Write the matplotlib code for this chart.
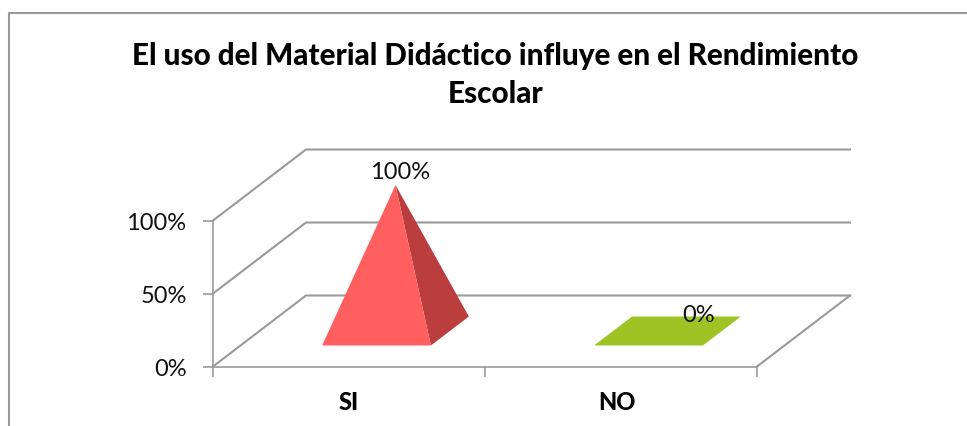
import matplotlib
matplotlib.use('Agg')
import matplotlib.pyplot as plt
from matplotlib.patches import Polygon
from matplotlib.lines import Line2D
from matplotlib.transforms import ScaledTranslation

plt.rcParams['font.family'] = ['Lato', 'DejaVu Sans']

title = 'El uso del Material Didáctico influye en el Rendimiento\nEscolar'
categories = ['SI', 'NO']
values = [1.0, 0.0]
value_labels = ['100%', '0%']
y_ticks = [0, 0.5, 1.0]
y_tick_labels = ['0%', '50%', '100%']

W, H = 967, 427
grey = '#9a9a9a'

# depth shift of the fake 3d box, in data units
depth_x = 93 / 272
depth_y = 71 / 146
half_w = 0.2
d_front, d_back = 0.296, 0.704


def proj(x, v, d):
    return x + d * depth_x, v + d * depth_y


fig = plt.figure(figsize=(W / 100, H / 100), dpi=100)
fig.add_artist(Line2D([9 / W, 9 / W, 1], [0, 1 - 14 / H, 1 - 14 / H], color=grey, lw=1.5))

ax = fig.add_axes([213 / W, 1 - 367.5 / H, 544 / W, 146 / H])
ax.set_xlim(0, 2)
ax.set_ylim(0, 1)
for s in ax.spines.values():
    s.set_visible(False)
ax.spines['left'].set_visible(True)
ax.spines['bottom'].set_visible(True)
ax.spines['left'].set_color(grey)
ax.spines['bottom'].set_color(grey)
ax.spines['left'].set_linewidth(1.2)
ax.spines['bottom'].set_linewidth(1.2)

ax.set_xticks([0, 1, 2])
ax.set_xticklabels([])
ax.set_xticks([0.5, 1.5], categories, minor=True, fontsize=17, fontweight='black')
ax.tick_params(axis='x', which='major', length=7, color=grey, width=1.2)
ax.tick_params(axis='x', which='minor', length=0, pad=17)
ax.set_yticks(y_ticks, y_tick_labels, fontsize=17)
ax.tick_params(axis='y', length=7, color=grey, width=1.2, pad=12, labelcolor='#111111')

# NO sits a bit left of its slot in the reference
no_label = ax.get_xticklabels(minor=True)[1]
no_label.set_transform(no_label.get_transform() + ScaledTranslation(-4 / 100, 0, fig.dpi_scale_trans))

# walls and floor
for v in y_ticks:
    x0, y0 = proj(0, v, 0)
    x1, y1 = proj(0, v, 1)
    x2, y2 = proj(2, v, 1)
    ax.plot([x0, x1, x2], [y0, y1, y2], color=grey, lw=1.5, clip_on=False, zorder=1)
x0, y0 = proj(2, 0, 0)
x1, y1 = proj(2, 0, 1)
ax.plot([x0, x1], [y0, y1], color=grey, lw=1.5, clip_on=False, zorder=1)

for i, (val, lab) in enumerate(zip(values, value_labels)):
    c = i + 0.5
    fl = proj(c - half_w, 0, d_front)
    fr = proj(c + half_w, 0, d_front)
    br = proj(c + half_w, 0, d_back)
    bl = proj(c - half_w, 0, d_back)
    apex = proj(c, val, 0.5)
    if val > 0:
        ax.add_patch(Polygon([fr, br, apex], closed=True, fc='#BC3D3D', ec='none', clip_on=False, zorder=3))
        ax.add_patch(Polygon([fl, fr, apex], closed=True, fc='#FF5F5F', ec='none', clip_on=False, zorder=4))
        ax.annotate(lab, apex, xytext=(5, 13), textcoords='offset pixels', ha='center', va='center',
                    fontsize=17, color='#111111', annotation_clip=False, zorder=5)
    else:
        ax.add_patch(Polygon([fl, fr, br, bl], closed=True, fc='#9DC324', ec='none', clip_on=False, zorder=3))
        ax.annotate(lab, apex, xytext=(31, 16), textcoords='offset pixels', ha='center', va='center',
                    fontsize=17, color='#111111', annotation_clip=False, zorder=5)

fig.text(495.5 / W, 1 - 75 / H, title, ha='center', va='center', fontsize=21.3, fontweight='black',
         color='black', linespacing=1.4)

fig.savefig('out.png', dpi=100)
